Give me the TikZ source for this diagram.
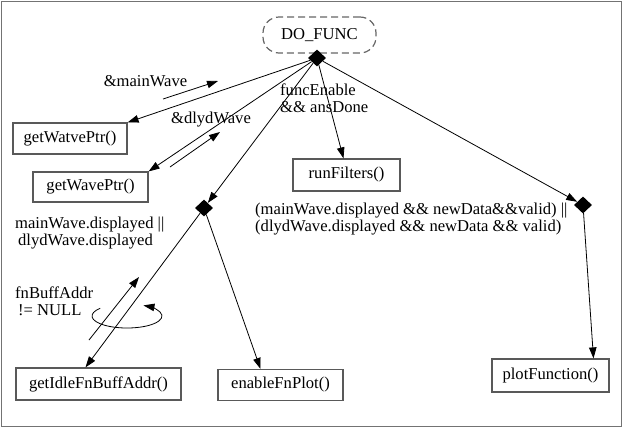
\documentclass[tikz,border=0pt]{standalone}
\usepackage{fontspec}
\setmainfont{Liberation Serif}
\usetikzlibrary{arrows.meta,shapes.geometric,calc}
\begin{document}
\begin{tikzpicture}[x=1pt,y=-1pt,
  every node/.style={font=\fontsize{16.6}{17}\selectfont},
  fbox/.style={draw=black!65,line width=1.2pt,inner sep=0pt},
  dia/.style={shape=diamond,fill=black,inner sep=0pt,minimum width=18pt,minimum height=17pt},
  edge/.style={-{Triangle[length=11pt,width=7.5pt]},line width=0.8pt},
  lbl/.style={align=left,anchor=west,inner sep=0pt}
]
\useasboundingbox (0,0) rectangle (624,429);
\draw[black!55,line width=1pt] (1,1) rectangle (621.5,426);

% main nodes
\node[draw=black!60,line width=1.2pt,dashed,dash pattern=on 7pt off 4pt,rounded corners=16pt,
      minimum width=113pt,minimum height=36pt,inner sep=0pt] (df) at (319.5,35) {DO\_FUNC};
\node[dia] (d1) at (317,58) {};
\node[dia] (d2) at (204,208) {};
\node[dia] (d3) at (583,205) {};

\node[fbox,minimum width=114pt,minimum height=31pt] (wa) at (70,138.5) {getWatvePtr()};
\node[fbox,minimum width=115pt,minimum height=30pt] (wb) at (90.5,187) {getWavePtr()};
\node[fbox,minimum width=107pt,minimum height=32pt] (rf) at (346.5,175) {runFilters()};
\node[fbox,minimum width=165pt,minimum height=32pt] (gi) at (98.5,384) {getIdleFnBuffAddr()};
\node[fbox,minimum width=125pt,minimum height=31pt] (ef) at (280.5,385) {enableFnPlot()};
\node[fbox,minimum width=117pt,minimum height=33pt] (pf) at (550.5,375.5) {plotFunction()};

% connectors
\draw[edge] (d1) -- (wa.north east);
\draw[edge] (d1) -- (wb.north east);
\draw[edge] (d1) -- (d2);
\draw[edge] (d1) -- ($(rf.north)+(-3,0)$);
\draw[edge] (d1) -- (d3);
\draw[edge] (d2) -- ($(gi.north)+(-13,0)$);
\draw[edge] (d2) -- ($(ef.north)+(-20,0)$);
\draw[edge] (d3) -- ($(pf.north)+(43,0)$);

% message arrows
\coordinate (m1) at (163,99);  \coordinate (m2) at (218,81);
\coordinate (w1) at (170,167); \coordinate (w2) at (220,132);
\coordinate (f1) at (89,340);  \coordinate (f2) at (139,277);
\draw[edge] (m1) -- (m2);
\draw[edge] (w1) -- (w2);
\draw[edge] (f1) -- (f2);
\coordinate (ls) at (100.2,308.3);
\draw[edge] (ls) arc[start angle=140,end angle=422,x radius=35pt,y radius=12pt];

% labels
\node[inner sep=0pt] (lm) at (145.5,81) {\&mainWave};
\node[inner sep=0pt] (lw) at (211,120) {\&dlydWave};
\node[lbl] (lf) at (280,98.5) {funcEnable\\\&\& ansDone};
\node[lbl] (ld) at (15,233.5) {mainWave.displayed ||\\\hspace*{3pt}dlydWave.displayed};
\node[lbl] (lb) at (15,301) {fnBuffAddr\\\hspace*{3pt}!= NULL};
\node[lbl] (lc) at (255,219.5) {(mainWave.displayed \&\& newData\&\&valid) ||\\(dlydWave.displayed \&\& newData \&\& valid)};
\end{tikzpicture}
\end{document}
